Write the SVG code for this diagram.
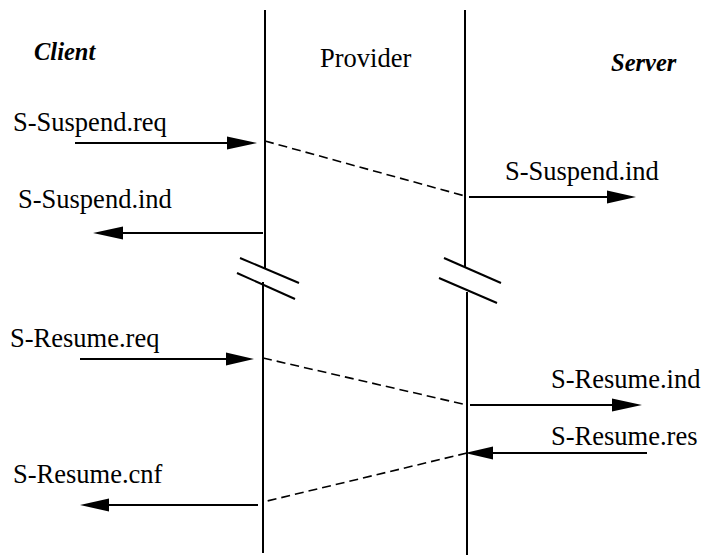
<svg xmlns="http://www.w3.org/2000/svg" width="704" height="555" viewBox="0 0 704 555">
<style>
.lbl{font-family:"Liberation Serif","DejaVu Serif","Times New Roman",serif;font-size:26.5px;fill:#000}
.role{font-family:"Liberation Serif","DejaVu Serif","Times New Roman",serif;font-size:24.5px;font-weight:bold;font-style:italic;fill:#000}
.life{stroke:#000;stroke-width:2;fill:none}
.brk{stroke:#000;stroke-width:2;fill:none}
.arr{stroke:#000;stroke-width:2;fill:none}
.dash{stroke:#000;stroke-width:1.6;fill:none;stroke-dasharray:9 5}
.head{fill:#000;stroke:none}
</style>
<rect width="704" height="555" fill="#fff"/>
<g id="client"><text class="role" font-family="Liberation Serif, serif" x="34" y="60">Client</text></g>
<g id="provider"><text class="lbl" font-family="Liberation Serif, serif" x="320" y="67">Provider</text></g>
<g id="server"><text class="role" font-family="Liberation Serif, serif" x="611" y="71">Server</text></g>
<g id="lifelines">
<line class="life" x1="265" y1="10" x2="265" y2="268"/>
<line class="life" x1="263" y1="282" x2="263" y2="553"/>
<line class="life" x1="465" y1="10" x2="465" y2="268"/>
<line class="life" x1="467" y1="292" x2="467" y2="555"/>
</g>
<g id="breaks">
<line class="brk" x1="240" y1="258" x2="299" y2="283"/>
<line class="brk" x1="237" y1="273" x2="295" y2="299"/>
<line class="brk" x1="444" y1="258" x2="501" y2="283"/>
<line class="brk" x1="439" y1="278" x2="497" y2="303"/>
</g>
<g id="labels" font-family="Liberation Serif, serif">
<text class="lbl" x="13" y="131">S-Suspend.req</text>
<text class="lbl" x="18" y="208">S-Suspend.ind</text>
<text class="lbl" x="505" y="180">S-Suspend.ind</text>
<text class="lbl" x="10" y="347">S-Resume.req</text>
<text class="lbl" x="551" y="388">S-Resume.ind</text>
<text class="lbl" x="551" y="445">S-Resume.res</text>
<text class="lbl" x="13" y="483">S-Resume.cnf</text>
</g>
<g id="connectors">
<line class="arr" x1="75" y1="143" x2="230" y2="143"/>
<polygon class="head" points="257,143 227,136.5 227,149.5"/>
<line class="dash" x1="265" y1="141" x2="465" y2="196"/>
<line class="arr" x1="469" y1="197" x2="610" y2="197"/>
<polygon class="head" points="636,197 607,190.5 607,203.5"/>
<line class="arr" x1="263" y1="233" x2="120" y2="233"/>
<polygon class="head" points="93,233 123,226.5 123,239.5"/>
<line class="arr" x1="80" y1="359" x2="230" y2="359"/>
<polygon class="head" points="254,359 226,352.5 226,365.5"/>
<line class="dash" x1="263" y1="358" x2="467" y2="405"/>
<line class="arr" x1="470" y1="405" x2="615" y2="405"/>
<polygon class="head" points="642,405 612,398.5 612,411.5"/>
<line class="arr" x1="647" y1="453" x2="490" y2="453"/>
<polygon class="head" points="465,453 493,446.5 493,459.5"/>
<line class="dash" x1="467" y1="453" x2="263" y2="502"/>
<line class="arr" x1="258" y1="505" x2="105" y2="505"/>
<polygon class="head" points="80,505 109,498.5 109,511.5"/>
</g>
</svg>
